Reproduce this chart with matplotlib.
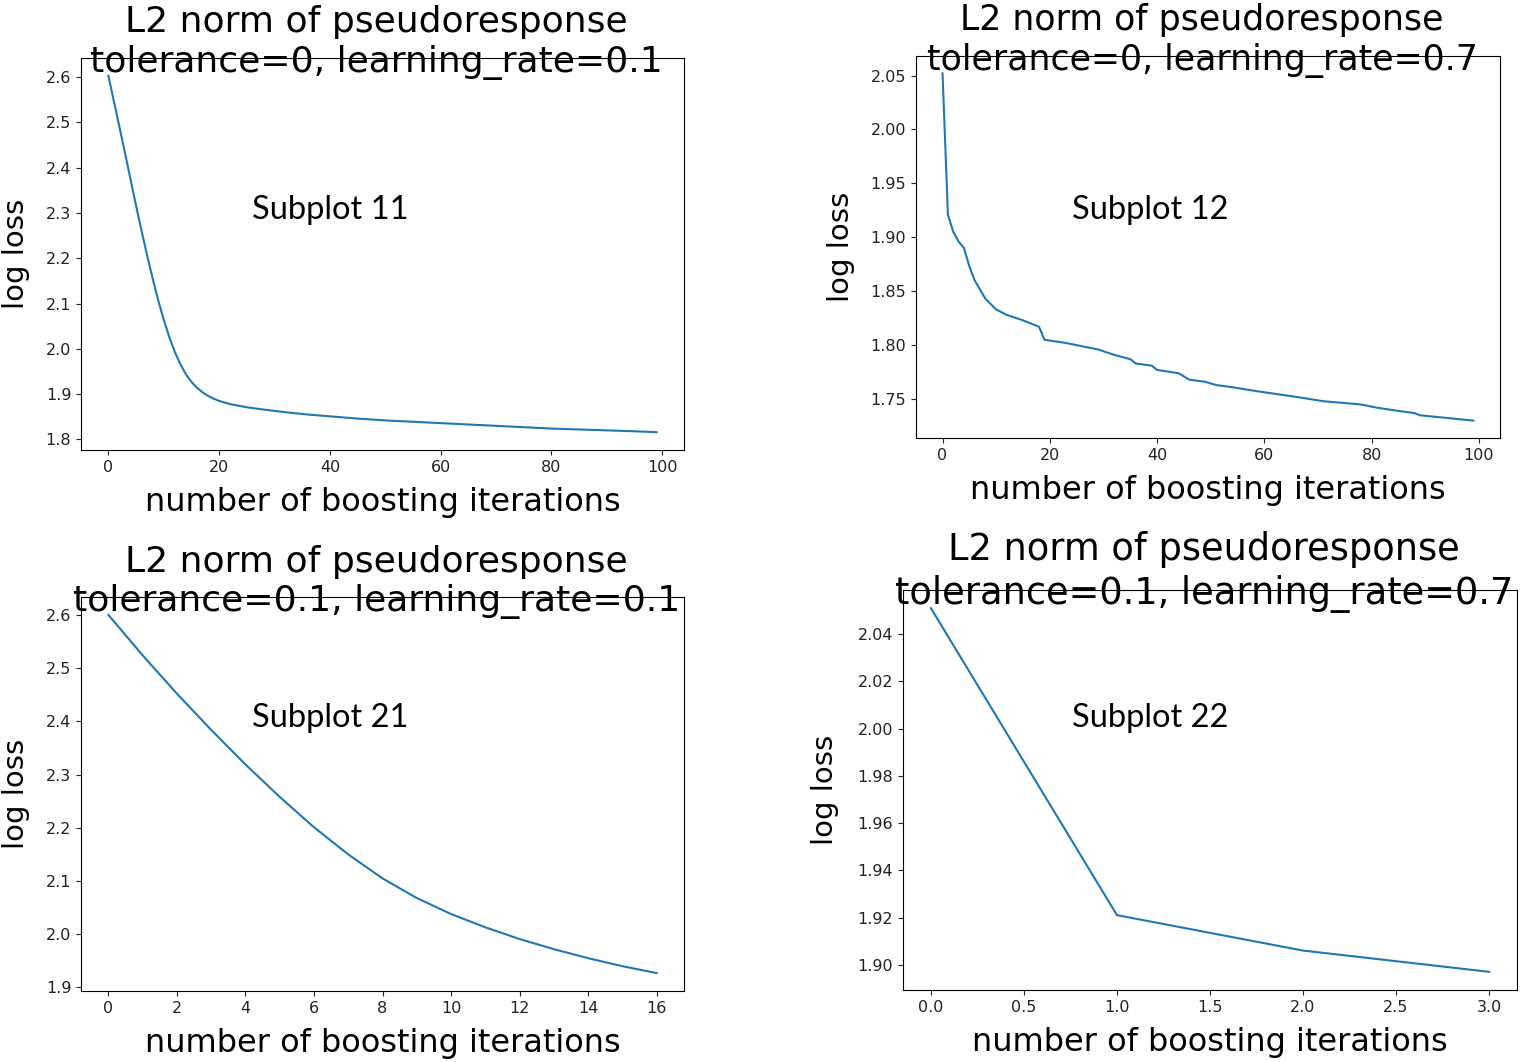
import matplotlib.pyplot as plt

# Data
x11 = [0, 1, 2, 3, 4, 5, 6, 7, 8, 9, 10, 11, 12, 13, 14, 15, 16, 17, 18, 19, 20,
       22, 25, 28, 32, 36, 40, 45, 50, 55, 60, 65, 70, 75, 80, 85, 90, 95, 99]
y11 = [2.603, 2.546, 2.490, 2.432, 2.374, 2.316, 2.260, 2.206, 2.155, 2.107, 2.064,
       2.026, 1.993, 1.966, 1.944, 1.927, 1.914, 1.904, 1.896, 1.890, 1.885,
       1.878, 1.871, 1.866, 1.860, 1.855, 1.851, 1.846, 1.842, 1.839, 1.836,
       1.833, 1.830, 1.827, 1.824, 1.822, 1.820, 1.818, 1.816]

x12 = [0, 1, 2, 3, 4, 5, 6, 8, 10, 12, 15, 18, 19, 23, 29, 32, 35, 36, 39, 40,
       44, 45, 46, 49, 51, 54, 59, 66, 71, 78, 81, 85, 88, 89, 95, 99]
y12 = [2.052, 1.921, 1.905, 1.896, 1.890, 1.873, 1.860, 1.843, 1.833, 1.828,
       1.823, 1.817, 1.805, 1.802, 1.796, 1.791, 1.787, 1.783, 1.781, 1.777,
       1.774, 1.771, 1.768, 1.766, 1.763, 1.761, 1.757, 1.752, 1.748, 1.745,
       1.742, 1.739, 1.737, 1.735, 1.732, 1.730]

x21 = list(range(17))
y21 = [2.600, 2.524, 2.452, 2.384, 2.319, 2.258, 2.201, 2.150, 2.105, 2.068,
       2.038, 2.013, 1.991, 1.972, 1.955, 1.940, 1.927]

x22 = [0, 1, 2, 3]
y22 = [2.051, 1.921, 1.906, 1.897]

titles = ["L2 norm of pseudoresponse\ntolerance=0, learning_rate=0.1",
          "L2 norm of pseudoresponse\ntolerance=0, learning_rate=0.7",
          "L2 norm of pseudoresponse\ntolerance=0.1, learning_rate=0.1",
          "L2 norm of pseudoresponse\ntolerance=0.1, learning_rate=0.7"]
notes = ["Subplot 11", "Subplot 12", "Subplot 21", "Subplot 22"]

W, H = 1532, 1062
fig = plt.figure(figsize=(W / 100, H / 100), dpi=100)


def px_axes(left, top, right, bottom):
    return fig.add_axes([left / W, 1 - bottom / H, (right - left) / W, (bottom - top) / H])


axes = [px_axes(81, 58, 684, 450), px_axes(916, 56, 1500, 438),
        px_axes(81, 597, 684, 991), px_axes(903, 590, 1517, 990)]
series = [(x11, y11), (x12, y12), (x21, y21), (x22, y22)]
title_sizes = [26, 25, 26, 26.5]
ylabel_pads = [11, 11, 11, 13]

for ax, (xs, ys), title, fs, lp in zip(axes, series, titles, title_sizes, ylabel_pads):
    ax.plot(xs, ys, color="#1f77b4", lw=1.5)
    ax.text(0.49, 0.943, title, transform=ax.transAxes, ha="center", va="bottom",
            fontsize=fs, linespacing=1.22)
    ax.set_xlabel("number of boosting iterations", fontsize=23, labelpad=9)
    ax.set_ylabel("log loss", fontsize=21, labelpad=lp)
    ax.tick_params(labelsize=11.5, colors="#222222")

axes[2].set_xticks(range(0, 17, 2))
axes[3].set_yticks([1.90, 1.92, 1.94, 1.96, 1.98, 2.00, 2.02, 2.04])

# annotations added on top of the figure
note_pos = [(252, 210), (1072, 210), (252, 718), (1072, 718)]
for (px, py), note in zip(note_pos, notes):
    fig.text(px / W, 1 - py / H, note, ha="left", va="center",
             fontsize=23.5, family=["Lato", "DejaVu Sans"])

plt.savefig("out.png", dpi=100)
